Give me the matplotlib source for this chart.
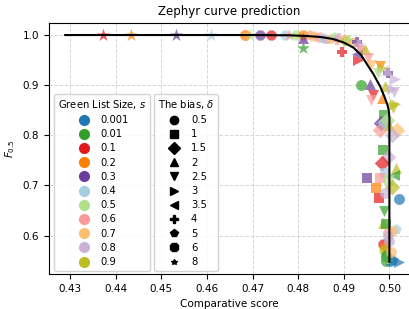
import numpy as np
import matplotlib.pyplot as plt
from matplotlib.lines import Line2D

# green list sizes / biases (legend categories)
s_values = [0.001, 0.01, 0.1, 0.2, 0.3, 0.4, 0.5, 0.6, 0.7, 0.8, 0.9]
s_colors = ['#1f78b4', '#33a02c', '#e31a1c', '#ff7f00', '#6a3d9a', '#a6cee3',
            '#b2df8a', '#fb9a99', '#fdbf6f', '#cab2d6', '#bcbd22']
delta_values = [0.5, 1, 1.5, 2, 2.5, 3, 3.5, 4, 5, 6, 8]
delta_markers = ['o', 's', 'D', '^', 'v', '>', '<', 'P', 'p', '8', '*']

# fitted prediction curve
curve_x = [0.4289, 0.445, 0.46, 0.47, 0.4780, 0.4820, 0.4850, 0.4877, 0.4900,
           0.4921, 0.4938, 0.4950, 0.4965, 0.4980, 0.4990, 0.4996, 0.4999,
           0.5000, 0.5000]
curve_y = [1.0, 1.0, 1.0, 1.0, 0.9995, 0.998, 0.996, 0.992, 0.985, 0.975,
           0.960, 0.943, 0.922, 0.897, 0.875, 0.860, 0.848, 0.835, 0.548]

# observed runs
score = [0.4372, 0.4434, 0.4532, 0.4609, 0.4684, 0.4695, 0.4717, 0.4741, 0.4772,
         0.4780, 0.4796, 0.4811, 0.4810, 0.4811, 0.4826, 0.4832, 0.4845, 0.4855,
         0.4862, 0.4870, 0.4878, 0.4885, 0.4890, 0.4897, 0.4900, 0.4905, 0.4912,
         0.4920, 0.4929, 0.4934, 0.4932, 0.4928, 0.4940, 0.4947, 0.4952, 0.4960,
         0.4980, 0.4984, 0.4997, 0.4995, 0.4975, 0.5013, 0.5010, 0.4938, 0.4958,
         0.4964, 0.4960, 0.4991, 0.4984, 0.5005, 0.5008, 0.5012, 0.4989, 0.4982,
         0.4980, 0.4990, 0.4995, 0.4999, 0.5017, 0.5005, 0.4986, 0.4997, 0.4984,
         0.4990, 0.5015, 0.5010, 0.4951, 0.4980, 0.5000, 0.4971, 0.5006, 0.4978,
         0.4990, 0.5021, 0.4989, 0.4986, 0.4992, 0.5015, 0.4997, 0.5005, 0.4998,
         0.4986, 0.4990, 0.4989, 0.4992, 0.4993, 0.5002, 0.5020, 0.4995, 0.5008,
         0.4993, 0.4999, 0.5003]
f05 = [1.0, 1.0, 1.0, 1.0, 1.0, 1.0, 1.0, 1.0, 1.0,
       1.0, 1.0, 1.0, 0.995, 0.974, 1.0, 0.998, 0.997, 0.995,
       0.993, 0.992, 0.996, 0.99, 0.994, 0.966, 0.992, 0.988, 0.99,
       0.985, 0.986, 0.98, 0.95, 0.962, 0.975, 0.972, 0.955, 0.94,
       0.938, 0.934, 0.924, 0.93, 0.925, 0.912, 0.886, 0.90, 0.902,
       0.88, 0.87, 0.898, 0.874, 0.892, 0.854, 0.862, 0.84, 0.824,
       0.81, 0.826, 0.83, 0.82, 0.81, 0.80, 0.77, 0.756, 0.744,
       0.724, 0.734, 0.72, 0.714, 0.714, 0.71, 0.694, 0.696, 0.674,
       0.684, 0.672, 0.65, 0.626, 0.624, 0.614, 0.606, 0.61, 0.60,
       0.584, 0.578, 0.572, 0.562, 0.55, 0.55, 0.547, 0.556, 0.552,
       0.558, 0.59, 0.568]
run_s = [0.1, 0.2, 0.3, 0.4, 0.2, 0.5, 0.3, 0.1, 0.4,
         0.6, 0.5, 0.2, 0.3, 0.01, 0.6, 0.7, 0.6, 0.4,
         0.8, 0.7, 0.5, 0.6, 0.8, 0.1, 0.7, 0.9, 0.5,
         0.7, 0.3, 0.8, 0.1, 0.3, 0.6, 0.9, 0.6, 0.7,
         0.2, 0.9, 0.3, 0.8, 0.5, 0.8, 0.8, 0.01, 0.3,
         0.1, 0.6, 0.9, 0.2, 0.8, 0.9, 0.9, 0.01, 0.3,
         0.6, 0.4, 0.5, 0.9, 0.7, 0.8, 0.01, 0.8, 0.1,
         0.4, 0.9, 0.01, 0.3, 0.6, 0.5, 0.2, 0.9, 0.1,
         0.8, 0.001, 0.01, 0.9, 0.01, 0.4, 0.6, 0.7, 0.8,
         0.1, 0.2, 0.9, 0.01, 0.01, 0.001, 0.001, 0.5, 0.001,
         0.01, 0.8, 0.7]
run_delta = [8, 8, 8, 8, 0.5, 8, 6, 6, 6,
             8, 6, 6, 2, 8, 5, 6, 6, 5,
             5, 5, 5, 4, 4, 4, 5, 5, 4,
             4, 4, 4, 3, 3.5, 3, 2, 2.5, 2.5,
             2.5, 3, 4, 2, 2.5, 3, 2.5, 0.5, 2,
             2.5, 2.5, 2, 2, 3, 2.5, 3, 1, 1.5,
             1.5, 1.5, 1.5, 2, 1.5, 1.5, 1, 1.5, 1.5,
             1, 2, 3.5, 1, 1, 1, 1, 1.5, 1,
             0.5, 0.5, 2.5, 2, 1, 5, 0.5, 0.5, 0.5,
             6, 6, 6, 6, 0.5, 0.5, 3, 0.5, 5,
             0.5, 0.5, 0.5]

plt.rcParams['font.size'] = 7.5
fig = plt.figure(figsize=(4.10, 3.09), dpi=100)
ax = fig.add_axes([49 / 410, 1 - 274 / 309, 361 / 410, (274 - 23.3) / 309])

for x, y, s, d in zip(score, f05, run_s, run_delta):
    m = delta_markers[delta_values.index(d)]
    ax.scatter(x, y, s=(95 if m == '*' else 62), color=s_colors[s_values.index(s)],
               marker=m, alpha=0.7, linewidths=0, zorder=2)

ax.plot(curve_x, curve_y, color='black', lw=1.5, zorder=3)

ax.set_xlim(0.42535, 0.50452)
ax.set_ylim(0.5234, 1.0234)
ax.set_xticks([0.43, 0.44, 0.45, 0.46, 0.47, 0.48, 0.49, 0.50])
ax.set_xticklabels(['0.43', '0.44', '0.45', '0.46', '0.47', '0.48', '0.49', '0.50'])
ax.set_yticks([0.6, 0.7, 0.8, 0.9, 1.0])
ax.grid(True, linestyle='--', color='#cccccc', alpha=0.8, lw=0.7)
ax.set_axisbelow(True)
ax.set_title('Zephyr curve prediction', fontsize=8.5)
ax.set_xlabel('Comparative score', fontsize=7.5)
ax.set_ylabel('$F_{0.5}$', fontsize=7.5)

h1 = [Line2D([], [], ls='', marker='o', color=c, markersize=7) for c in s_colors]
leg1 = ax.legend(h1, [str(v) for v in s_values], title='Green List Size, $s$',
                 loc='lower left', bbox_to_anchor=(0.005, 0.0), fontsize=7.2,
                 title_fontsize=7.2, labelspacing=0.42, handlelength=1.8,
                 handletextpad=0.8, borderaxespad=0.3, framealpha=0.85)
ax.add_artist(leg1)
h2 = [Line2D([], [], ls='', marker=m, color='black',
             markersize=(4 if m == '*' else 6)) for m in delta_markers]
ax.legend(h2, [f'{v:g}' for v in delta_values], title='The bias, $\\delta$',
          loc='lower left', bbox_to_anchor=(0.282, 0.0), fontsize=7.2,
          title_fontsize=7.2, labelspacing=0.42, handlelength=1.8,
          handletextpad=0.8, borderaxespad=0.3, framealpha=0.85)

fig.savefig('out.png', dpi=100)
